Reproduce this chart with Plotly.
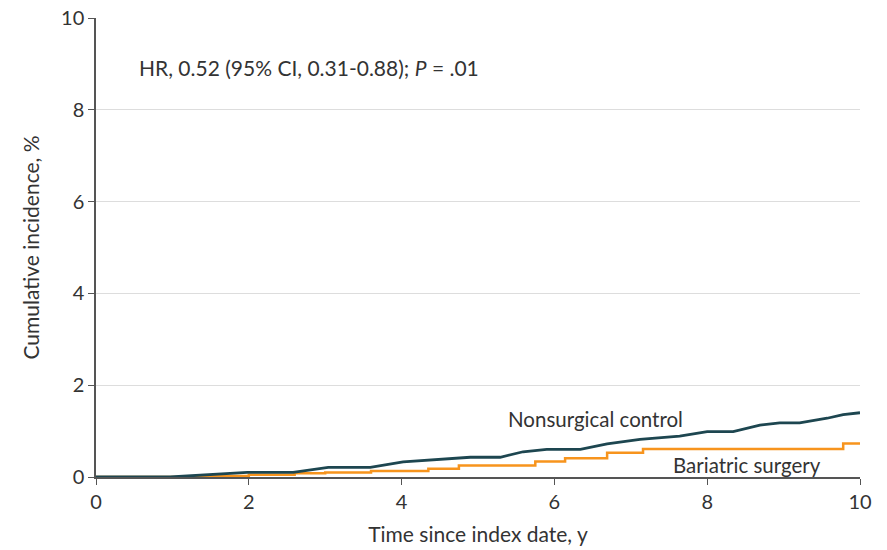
import plotly.graph_objects as go

# Nonsurgical control (time in years, cumulative incidence %)
ctrl_t = [0, 0.97, 1.98, 2.58, 3.04, 3.59, 4.02, 4.5, 4.9, 5.29, 5.59, 5.9, 6.34, 6.69, 7.12, 7.64, 8.0, 8.34, 8.69, 8.95, 9.21, 9.57, 9.78, 10.0]
ctrl_y = [0, 0, 0.1, 0.1, 0.21, 0.21, 0.33, 0.39, 0.43, 0.43, 0.55, 0.6, 0.6, 0.72, 0.82, 0.89, 0.99, 0.99, 1.13, 1.18, 1.18, 1.28, 1.36, 1.4]

# Bariatric surgery (step function)
bar_t = [0, 1.4, 2.0, 2.6, 3.0, 3.6, 4.35, 4.75, 5.75, 6.14, 6.69, 7.16, 9.78, 10.0]
bar_y = [0, 0.02, 0.05, 0.08, 0.1, 0.13, 0.18, 0.25, 0.34, 0.41, 0.53, 0.61, 0.73, 0.73]

x_ticks = [0, 2, 4, 6, 8, 10]
y_ticks = [0, 2, 4, 6, 8, 10]

FONT = "Lato, Open Sans, sans-serif"
TXT = "#333333"

fig = go.Figure()
fig.add_trace(go.Scatter(x=bar_t, y=bar_y, mode="lines", line=dict(color="#f7941d", width=2.5, shape="hv"),
                         name="Bariatric surgery", hoverinfo="skip"))
fig.add_trace(go.Scatter(x=ctrl_t, y=ctrl_y, mode="lines", line=dict(color="#1d4650", width=2.8),
                         name="Nonsurgical control", hoverinfo="skip"))

fig.add_annotation(x=0.54, y=8.93, xref="x", yref="y", xanchor="left", yanchor="middle",
                   text="HR, 0.52 (95% CI, 0.31-0.88); <i>P</i> = .01", showarrow=False,
                   font=dict(size=21, color=TXT, family=FONT))
fig.add_annotation(x=5.36, y=1.27, xref="x", yref="y", xanchor="left", yanchor="middle",
                   text="Nonsurgical control", showarrow=False, font=dict(size=20.5, color=TXT, family=FONT))
fig.add_annotation(x=7.53, y=0.27, xref="x", yref="y", xanchor="left", yanchor="middle",
                   text="Bariatric surgery", showarrow=False, font=dict(size=20.5, color=TXT, family=FONT))

fig.update_layout(
    width=887, height=550,
    margin=dict(l=96, r=27, t=18, b=73),
    paper_bgcolor="white", plot_bgcolor="white",
    showlegend=False,
    font=dict(family=FONT, size=19, color=TXT),
    xaxis=dict(range=[0, 10], tickvals=x_ticks, showgrid=False, zeroline=False, automargin=False,
               showline=True, linecolor="#555555", linewidth=1.5, ticks="outside", ticklen=6,
               tickcolor="#555555", tickfont=dict(size=20, family=FONT, color=TXT),
               title=dict(text="Time since index date, y", font=dict(size=21, family=FONT, color=TXT), standoff=16)),
    yaxis=dict(range=[0, 10], tickvals=y_ticks, showgrid=True, gridcolor="#dddddd", gridwidth=1.2,
               zeroline=False, showline=True, linecolor="#555555", linewidth=1.5, ticks="outside", ticklen=6,
               automargin=False,
               tickcolor="#555555", tickfont=dict(size=20, family=FONT, color=TXT),
               title=dict(text="Cumulative incidence, %", font=dict(size=21, family=FONT, color=TXT), standoff=16)),
)

fig.write_html("out.html")
